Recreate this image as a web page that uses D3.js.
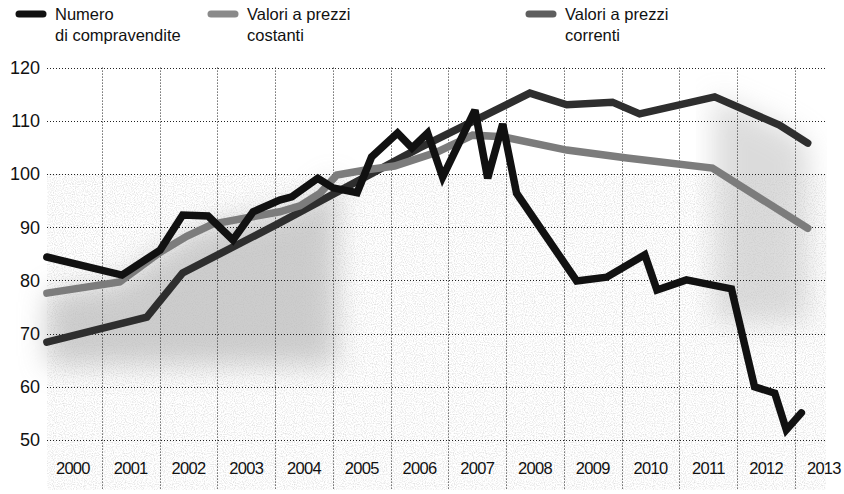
<!DOCTYPE html>
<html><head><meta charset="utf-8">
<script src="https://cdn.jsdelivr.net/npm/d3@7"></script>
<style>body{margin:0;background:#fff}svg{display:block}</style>
</head><body><svg id="c" width="844" height="494"></svg>
<script>
// ---- data ----
const years = [2000,2001,2002,2003,2004,2005,2006,2007,2008,2009,2010,2011,2012,2013];
const yTicks = [50,60,70,80,90,100,110,120];
const legendLabels = [["Numero","di compravendite"],["Valori a prezzi","costanti"],["Valori a prezzi","correnti"]];

const compravenditeT = [2000.05,2001.35,2002.01,2002.40,2002.84,2003.27,2003.62,2004.08,2004.29,2004.74,2005.00,2005.42,2005.67,2006.12,2006.37,2006.64,2006.90,2007.46,2007.68,2007.94,2008.18,2009.22,2009.74,2010.40,2010.61,2011.12,2011.90,2012.30,2012.65,2012.85,2013.11];
const compravenditeV = [84.4,81.0,85.7,92.3,92.1,87.6,92.9,95.1,95.7,99.2,97.4,96.5,103.2,107.7,104.9,107.7,99.4,112.0,99.2,109.4,96.4,79.9,80.6,84.8,78.2,80.1,78.4,60.0,58.8,51.9,55.1];

const costantiT = [2000.05,2001.31,2002.01,2002.47,2002.92,2004.08,2004.43,2004.78,2005.07,2005.59,2006.07,2006.80,2007.42,2007.94,2009.05,2010.09,2011.57,2013.22];
const costantiV = [77.6,79.7,85.3,88.3,90.6,92.9,94.0,96.4,99.8,100.8,101.5,104.1,107.3,107.0,104.5,103.0,101.1,89.8];

const correntiT = [2000.05,2001.78,2002.40,2004.08,2006.50,2008.41,2009.05,2009.84,2010.31,2011.61,2012.73,2013.22];
const correntiV = [68.4,73.1,81.4,90.8,104.9,115.2,113.0,113.5,111.3,114.5,109.2,105.8];

// ---- chart ----
const svg = d3.select("#c");
const x = d3.scaleLinear().domain([2000, 2013]).range([44, 795]);
const y = d3.scaleLinear().domain([50, 120]).range([440, 67.6]);
const left = 47, right = 826;
const font = "'Liberation Sans', Arial, sans-serif";

// background speckle tone (scan texture)
const defs = svg.append("defs");
defs.append("filter").attr("id","blur").attr("x","-20%").attr("y","-20%").attr("width","140%").attr("height","140%")
  .append("feGaussianBlur").attr("stdDeviation", 14);
const noise = defs.append("filter").attr("id","noise").attr("x",0).attr("y",0).attr("width","100%").attr("height","100%");
noise.append("feTurbulence").attr("type","fractalNoise").attr("baseFrequency",0.9).attr("numOctaves",1).attr("seed",3).attr("result","t");
noise.append("feColorMatrix").attr("type","matrix")
  .attr("values","0 0 0 0 0  0 0 0 0 0  0 0 0 0 0  0 0 0 -2.2 1.25").attr("result","n");
noise.append("feComposite").attr("in","n").attr("in2","SourceGraphic").attr("operator","in");

const bg = svg.append("g");
bg.append("rect").attr("x", left).attr("y", y(100)).attr("width", right-left).attr("height", 490-y(100))
  .attr("fill","#000").attr("opacity",0.15).attr("filter","url(#noise)");
const areaL = d3.area().x(d=>x(d[0])).y0(y(64)).y1(d=>y(d[1]));
const leftPts = costantiT.map((t,i)=>[t,costantiV[i]]).filter(d=>d[0]<=2005.1);
bg.append("path").datum(leftPts).attr("d",areaL).attr("fill","#bdbdbd").attr("opacity",0.75).attr("filter","url(#blur)");
const rightPts = correntiT.map((t,i)=>[t,correntiV[i]]).filter(d=>d[0]>=2011.5);
bg.append("path").datum(rightPts).attr("d",d3.area().x(d=>x(d[0])).y0(y(72)).y1(d=>y(d[1]))).attr("fill","#c4c4c4").attr("opacity",0.6).attr("filter","url(#blur)");

// grid
const grid = svg.append("g").attr("stroke","#222").attr("stroke-width",1).attr("stroke-dasharray","1,2");
grid.selectAll("line.h").data(yTicks).join("line")
  .attr("x1",left).attr("x2",right).attr("y1",d=>Math.round(y(d))+0.5).attr("y2",d=>Math.round(y(d))+0.5);
grid.selectAll("line.v").data(years.slice(1)).join("line")
  .attr("x1",d=>Math.round(x(d))+0.5).attr("x2",d=>Math.round(x(d))+0.5).attr("y1",y(120)).attr("y2",490);

// y labels
svg.append("g").selectAll("text").data(yTicks).join("text")
  .attr("x",40).attr("y",d=>y(d)).attr("dy","0.36em").attr("text-anchor","end")
  .attr("font-family",font).attr("font-size",18).attr("fill","#111").text(d=>d);

// x labels (centered in each year band)
svg.append("g").selectAll("text").data(years).join("text")
  .attr("x",d=>x(d+0.5)).attr("y",474).attr("text-anchor","middle")
  .attr("font-family",font).attr("font-size",16.5).attr("letter-spacing","-0.7").attr("fill","#111").text(d=>d);

// lines
const line = d3.line().x(d=>x(d[0])).y(d=>y(d[1]));
const series = [
  {t:correntiT, v:correntiV, color:"#2e2e2e", w:7.5},
  {t:costantiT, v:costantiV, color:"#7c7c7c", w:7.5},
  {t:compravenditeT, v:compravenditeV, color:"#111", w:7.5}
];
svg.append("g").selectAll("path").data(series).join("path")
  .attr("d",s=>line(s.t.map((t,i)=>[t,s.v[i]])))
  .attr("fill","none").attr("stroke",s=>s.color).attr("stroke-width",s=>s.w)
  .attr("stroke-linejoin","miter").attr("stroke-miterlimit",3).attr("stroke-linecap","round");

// legend
const legendColors = ["#111","#8a8a8a","#5e5e5e"];
const legendX = [15, 207, 525];
const lg = svg.append("g").selectAll("g").data(legendLabels).join("g")
  .attr("transform",(d,i)=>`translate(${legendX[i]},0)`);
lg.append("line").attr("x1",4).attr("x2",28).attr("y1",14).attr("y2",14)
  .attr("stroke",(d,i)=>legendColors[i]).attr("stroke-width",7).attr("stroke-linecap","round");
lg.append("text").attr("x",40).attr("y",20).attr("font-family",font).attr("font-size",16.5).attr("fill","#111")
  .selectAll("tspan").data(d=>d).join("tspan").attr("x",40).attr("dy",(d,i)=>i?21:0).text(d=>d);
</script></body></html>
